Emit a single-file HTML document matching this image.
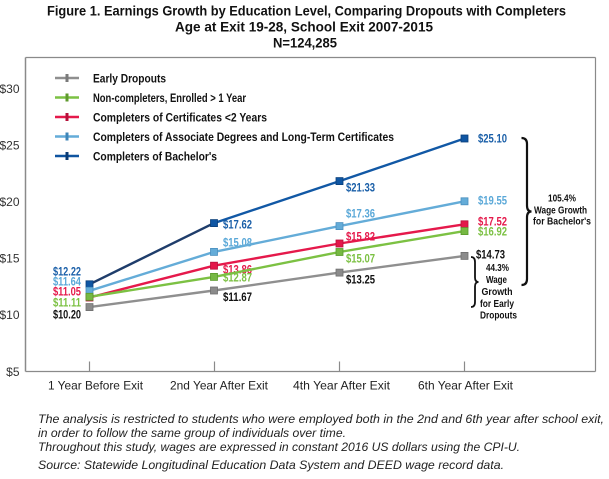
<!DOCTYPE html>
<html>
<head>
<meta charset="utf-8">
<style>
  html, body { margin: 0; padding: 0; background: #ffffff; }
  svg { display: block; }
  .t { font-family: "Liberation Sans Narrow", "Liberation Sans", Arial, sans-serif; font-weight: bold; }
  .r { font-family: "Liberation Sans", Arial, sans-serif; }
  .i { font-family: "Liberation Sans", Arial, sans-serif; font-style: italic; }
</style>
</head>
<body>
<svg width="609" height="479" viewBox="0 0 609 479" xmlns="http://www.w3.org/2000/svg">
  <rect x="0" y="0" width="609" height="479" fill="#ffffff"/>

  <!-- Title -->
  <text class="t" x="306.5" y="15.5" font-size="14" text-anchor="middle" fill="#111" textLength="519" lengthAdjust="spacingAndGlyphs">Figure 1. Earnings Growth by Education Level, Comparing Dropouts with Completers</text>
  <text class="t" x="304" y="31.5" font-size="14" text-anchor="middle" fill="#111" textLength="258" lengthAdjust="spacingAndGlyphs">Age at Exit 19-28, School Exit 2007-2015</text>
  <text class="t" x="305" y="47.5" font-size="14" text-anchor="middle" fill="#111" textLength="64" lengthAdjust="spacingAndGlyphs">N=124,285</text>

  <!-- Plot frame -->
  <line x1="25.5" y1="57.5" x2="595.5" y2="57.5" stroke="#8a8a8a" stroke-width="1.2"/>
  <line x1="595.5" y1="57.5" x2="595.5" y2="371.5" stroke="#8a8a8a" stroke-width="1.2"/>
  <line x1="25.5" y1="371.5" x2="595.5" y2="371.5" stroke="#8a8a8a" stroke-width="1.2"/>
  <line x1="25.5" y1="57.5" x2="25.5" y2="371.5" stroke="#8a8a8a" stroke-width="1.5"/>

  <!-- x ticks -->
  <line x1="89.5" y1="361.5" x2="89.5" y2="371.5" stroke="#8a8a8a" stroke-width="1.2"/>
  <line x1="214.5" y1="361.5" x2="214.5" y2="371.5" stroke="#8a8a8a" stroke-width="1.2"/>
  <line x1="339.5" y1="361.5" x2="339.5" y2="371.5" stroke="#8a8a8a" stroke-width="1.2"/>
  <line x1="464.5" y1="361.5" x2="464.5" y2="371.5" stroke="#8a8a8a" stroke-width="1.2"/>

  <!-- y labels -->
  <g class="r" font-size="12" fill="#333" text-anchor="end">
    <text x="19.5" y="92.8">$30</text>
    <text x="19.5" y="149.4">$25</text>
    <text x="19.5" y="206">$20</text>
    <text x="19.5" y="262.6">$15</text>
    <text x="19.5" y="319.2">$10</text>
    <text x="19.5" y="375.8">$5</text>
  </g>

  <!-- x labels -->
  <g class="r" font-size="12" fill="#222" text-anchor="middle">
    <text x="95.5" y="389.5" textLength="95" lengthAdjust="spacingAndGlyphs">1 Year Before Exit</text>
    <text x="219" y="389.5" textLength="98" lengthAdjust="spacingAndGlyphs">2nd Year After Exit</text>
    <text x="341.5" y="389.5" textLength="97" lengthAdjust="spacingAndGlyphs">4th Year After Exit</text>
    <text x="465.5" y="389.5" textLength="95" lengthAdjust="spacingAndGlyphs">6th Year After Exit</text>
  </g>

  <!-- Legend -->
  <g>
    <line x1="55" y1="78" x2="79" y2="78" stroke="#8f8f8f" stroke-width="2.5"/>
    <rect x="65.5" y="74" width="3" height="8" fill="#7a7a7a"/>
    <text class="t" x="93" y="82.3" font-size="12" fill="#111" textLength="73" lengthAdjust="spacingAndGlyphs">Early Dropouts</text>

    <line x1="55" y1="97.5" x2="79" y2="97.5" stroke="#7cc143" stroke-width="2.5"/>
    <rect x="65.5" y="93.5" width="3" height="8" fill="#5f9a2e"/>
    <text class="t" x="93" y="101.8" font-size="12" fill="#111" textLength="153" lengthAdjust="spacingAndGlyphs">Non-completers, Enrolled &gt; 1 Year</text>

    <line x1="55" y1="117" x2="79" y2="117" stroke="#e5194b" stroke-width="2.5"/>
    <rect x="65.5" y="113" width="3" height="8" fill="#b5103a"/>
    <text class="t" x="93" y="121.3" font-size="12" fill="#111" textLength="174" lengthAdjust="spacingAndGlyphs">Completers of Certificates &lt;2 Years</text>

    <line x1="55" y1="136.5" x2="79" y2="136.5" stroke="#64acd8" stroke-width="2.5"/>
    <rect x="65.5" y="132.5" width="3" height="8" fill="#3f86b8"/>
    <text class="t" x="93" y="140.8" font-size="12" fill="#111" textLength="301" lengthAdjust="spacingAndGlyphs">Completers of Associate Degrees and Long-Term Certificates</text>

    <line x1="55" y1="156" x2="79" y2="156" stroke="#0f54a0" stroke-width="2.5"/>
    <rect x="65.5" y="152" width="3" height="8" fill="#0a3a73"/>
    <text class="t" x="93" y="160.3" font-size="12" fill="#111" textLength="124" lengthAdjust="spacingAndGlyphs">Completers of Bachelor's</text>
  </g>

  <!-- Data labels (drawn before lines) -->
  <g class="t" font-size="12">
    <!-- 1st point, right aligned -->
    <text x="81" y="275.3" text-anchor="end" fill="#1a5fa8" textLength="28" lengthAdjust="spacingAndGlyphs">$12.22</text>
    <text x="81" y="285.3" text-anchor="end" fill="#5aa8d8" textLength="28" lengthAdjust="spacingAndGlyphs">$11.64</text>
    <text x="81" y="295.3" text-anchor="end" fill="#e5194b" textLength="28" lengthAdjust="spacingAndGlyphs">$11.05</text>
    <text x="81" y="306.3" text-anchor="end" fill="#7cc143" textLength="28" lengthAdjust="spacingAndGlyphs">$11.11</text>
    <text x="81" y="318.3" text-anchor="end" fill="#111" textLength="28" lengthAdjust="spacingAndGlyphs">$10.20</text>

    <!-- 2nd point -->
    <text x="223" y="228.3" fill="#1a5fa8" textLength="29" lengthAdjust="spacingAndGlyphs">$17.62</text>
    <text x="223" y="246.3" fill="#5aa8d8" textLength="29" lengthAdjust="spacingAndGlyphs">$15.08</text>
    <text x="223" y="273.3" fill="#e5194b" textLength="29" lengthAdjust="spacingAndGlyphs">$13.86</text>
    <text x="223" y="281.6" fill="#7cc143" textLength="29" lengthAdjust="spacingAndGlyphs">$12.87</text>
    <text x="223" y="301" fill="#111" textLength="29" lengthAdjust="spacingAndGlyphs">$11.67</text>

    <!-- 3rd point -->
    <text x="346" y="191.3" fill="#1a5fa8" textLength="29" lengthAdjust="spacingAndGlyphs">$21.33</text>
    <text x="346" y="217.3" fill="#5aa8d8" textLength="29" lengthAdjust="spacingAndGlyphs">$17.36</text>
    <text x="346" y="240.3" fill="#e5194b" textLength="29" lengthAdjust="spacingAndGlyphs">$15.82</text>
    <text x="346" y="262.3" fill="#7cc143" textLength="29" lengthAdjust="spacingAndGlyphs">$15.07</text>
    <text x="346" y="283.3" fill="#111" textLength="29" lengthAdjust="spacingAndGlyphs">$13.25</text>

    <!-- 4th point -->
    <text x="478" y="142.5" fill="#1a5fa8" textLength="29" lengthAdjust="spacingAndGlyphs">$25.10</text>
    <text x="478" y="204.5" fill="#5aa8d8" textLength="29" lengthAdjust="spacingAndGlyphs">$19.55</text>
    <text x="478" y="225.3" fill="#e5194b" textLength="29" lengthAdjust="spacingAndGlyphs">$17.52</text>
    <text x="478" y="235.3" fill="#7cc143" textLength="29" lengthAdjust="spacingAndGlyphs">$16.92</text>
    <text x="476" y="258.3" fill="#111" textLength="29" lengthAdjust="spacingAndGlyphs">$14.73</text>
  </g>

  <!-- Series lines -->
  <g fill="none" stroke-width="2.4" stroke-linejoin="round">
    <polyline points="89.5,284.3 214,223.1" stroke="#1f3d6b"/>
    <polyline points="214,223.1 339.5,181.1 464.5,138.5" stroke="#1158a5"/>
    <polyline points="89.5,290.8 214,251.9 339.5,226.1 464.5,201.3" stroke="#64acd8"/>
    <polyline points="89.5,297.5 214,265.7 339.5,243.5 464.5,224.3" stroke="#e5194b"/>
    <polyline points="89.5,296.8 214,276.9 339.5,252.0 464.5,231.1" stroke="#7cc143"/>
    <polyline points="89.5,307.1 214,290.5 339.5,272.6 464.5,255.9" stroke="#8f8f8f"/>
  </g>

  <!-- Markers -->
  <g stroke-width="0.8">
    <g fill="#0f56a3" stroke="#0a3f7a">
      <rect x="86" y="280.8" width="7" height="7"/>
      <rect x="210.5" y="219.6" width="7" height="7"/>
      <rect x="336" y="177.6" width="7" height="7"/>
      <rect x="461" y="135" width="7" height="7"/>
    </g>
    <g fill="#64acd8" stroke="#4a8fbf">
      <rect x="86" y="287.3" width="7" height="7"/>
      <rect x="210.5" y="248.4" width="7" height="7"/>
      <rect x="336" y="222.6" width="7" height="7"/>
      <rect x="461" y="197.8" width="7" height="7"/>
    </g>
    <g fill="#e3174a" stroke="#b8103b">
      <rect x="86" y="294" width="7" height="7"/>
      <rect x="210.5" y="262.2" width="7" height="7"/>
      <rect x="336" y="240" width="7" height="7"/>
      <rect x="461" y="220.8" width="7" height="7"/>
    </g>
    <g fill="#76b843" stroke="#5a9a2c">
      <rect x="86" y="293.3" width="7" height="7"/>
      <rect x="210.5" y="273.4" width="7" height="7"/>
      <rect x="336" y="248.5" width="7" height="7"/>
      <rect x="461" y="227.6" width="7" height="7"/>
    </g>
    <g fill="#8b8b8b" stroke="#6f6f6f">
      <rect x="86" y="303.6" width="7" height="7"/>
      <rect x="210.5" y="287" width="7" height="7"/>
      <rect x="336" y="269.1" width="7" height="7"/>
      <rect x="461" y="252.4" width="7" height="7"/>
    </g>
  </g>

  <!-- Braces -->
  <path d="M521.5 138 Q527 138 527 144 L527 205.5 Q527 211.5 531.5 211.5 Q527 211.5 527 217.5 L527 279 Q527 285 521.5 285" fill="none" stroke="#111" stroke-width="2.2"/>
  <path d="M471 257 Q475 257 475 262 L475 277.5 Q475 282 478.5 282 Q475 282 475 286.5 L475 302 Q475 307 471 307" fill="none" stroke="#111" stroke-width="1.8"/>

  <!-- Annotation texts -->
  <g class="t" font-size="10.5" fill="#111" text-anchor="middle">
    <text x="562" y="201.3" textLength="28" lengthAdjust="spacingAndGlyphs">105.4%</text>
    <text x="560.5" y="213.3" textLength="53" lengthAdjust="spacingAndGlyphs">Wage Growth</text>
    <text x="562" y="224.3" textLength="58" lengthAdjust="spacingAndGlyphs">for Bachelor's</text>

    <text x="497.5" y="271" textLength="23" lengthAdjust="spacingAndGlyphs">44.3%</text>
    <text x="496.5" y="283" textLength="21" lengthAdjust="spacingAndGlyphs">Wage</text>
    <text x="497" y="295" textLength="31" lengthAdjust="spacingAndGlyphs">Growth</text>
    <text x="497" y="307" textLength="34" lengthAdjust="spacingAndGlyphs">for Early</text>
    <text x="498.5" y="318.5" textLength="37" lengthAdjust="spacingAndGlyphs">Dropouts</text>
  </g>

  <!-- Footnotes -->
  <g class="i" font-size="12" fill="#222">
    <text x="38" y="423" textLength="566" lengthAdjust="spacingAndGlyphs">The analysis is restricted to students who were employed both in the 2nd and 6th year after school exit,</text>
    <text x="38" y="437" textLength="308" lengthAdjust="spacingAndGlyphs">in order to follow the same group of individuals over time.</text>
    <text x="38" y="451" textLength="482" lengthAdjust="spacingAndGlyphs">Throughout this study, wages are expressed in constant 2016 US dollars using the CPI-U.</text>
    <text x="38" y="469" textLength="466" lengthAdjust="spacingAndGlyphs">Source: Statewide Longitudinal Education Data System and DEED wage record data.</text>
  </g>
</svg>
</body>
</html>
